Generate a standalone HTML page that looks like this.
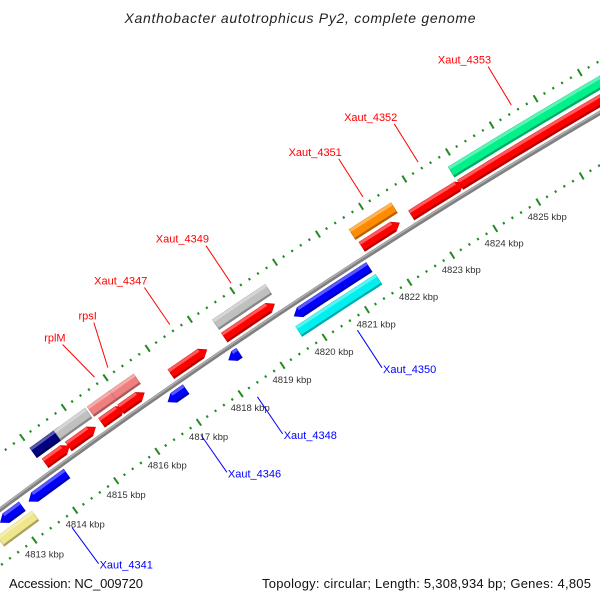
<!DOCTYPE html>
<html><head><meta charset="utf-8"><style>
body{margin:0;background:#fff}
svg{display:block;font-family:"Liberation Sans",sans-serif}
</style></head><body>
<svg id="map" width="600" height="600" viewBox="0 0 600 600" xmlns="http://www.w3.org/2000/svg">
<rect width="600" height="600" fill="#fff"/>
<text x="300" y="23" text-anchor="middle" font-size="14" font-style="italic" fill="#222" textLength="351">Xanthobacter autotrophicus Py2, complete genome</text>
<g id="layer"></g>
<text x="9" y="588" font-size="13" fill="#111" textLength="134">Accession: NC_009720</text>
<text x="591" y="588" font-size="13" fill="#111" text-anchor="end" textLength="329">Topology: circular; Length: 5,308,934 bp; Genes: 4,805</text>
</svg>
<script>
// gene data (kbp)
const geneStarts = [4814.07,4814.63,4815.43,4815.89,4817.09,4818.36,4821.59,4822.74,4823.87, 4814.0,4814.58,4815.38,4815.92,4818.36,4821.56,4823.85,4827.3, 4812.67,4813.37,4816.73,4818.18,4819.73, 4812.45,4819.64];
const geneEnds   = [4814.65,4815.28,4815.97,4816.45,4817.94,4819.54,4822.46,4823.94,4827.6, 4814.68,4815.33,4815.92,4816.49,4819.6,4822.53,4827.3,4828.0, 4813.2,4814.29,4817.16,4818.43,4821.49, 4813.3,4821.52];
const geneRows   = [1,1,1,1,1,1,1,1,1, 2,2,2,2,2,2,2,2, -1,-1,-1,-1,-1, -2,-2];
const geneColors = ["#f00","#f00","#f00","#f00","#f00","#f00","#f00","#f00","#f00","#000080","#c0c0c0","#f08080","#f08080","#c0c0c0","#ff8c00","#00f08c","#ff8c00","#00f","#00f","#00f","#00f","#00f","#f0e68c","#00f0f0"];
const geneArrow  = [1,1,1,1,1,1,1,1,1, 0,0,0,0,0,0,0,0, 1,1,1,1,1, 0,0];
// labels
const labelNames = ["rplM","rpsI","Xaut_4347","Xaut_4349","Xaut_4351","Xaut_4352","Xaut_4353","Xaut_4341","Xaut_4346","Xaut_4348","Xaut_4350"];
const labelKbp   = [4815.83,4816.15,4817.62,4819.06,4822.13,4823.40,4825.53,4813.75,4816.89,4818.24,4820.62];
const labelStrand= [1,1,1,1,1,1,1,-1,-1,-1,-1];
const labelShift = [-0.14,0.28,0,0,0,0,0,0,0,0,0];
// ticks
const tickLabels = [4813,4814,4815,4816,4817,4818,4819,4820,4821,4822,4823,4824,4825];

const CX=3983, CY=5881, R=6687, RIN=6642, ROUT=6732;
const ns="http://www.w3.org/2000/svg";
const layer=document.getElementById('layer');
function ang(k){return (-126.04+(k-4814)*0.4364)*Math.PI/180;}
function pt(k,r){const a=ang(k);return [CX+r*Math.cos(a),CY+r*Math.sin(a)];}
function mk(tag,attrs){const e=document.createElementNS(ns,tag);for(const k in attrs)e.setAttribute(k,attrs[k]);layer.appendChild(e);return e;}
function shade(c,f){const d=document.createElement('div');d.style.color=c;document.body.appendChild(d);const m=getComputedStyle(d).color.match(/\d+/g).map(Number);d.remove();
 return 'rgb('+m.map(v=>Math.round(f>1?v+(255-v)*(f-1):v*f)).join(',')+')';}

// backbone
(function(){let p=[];for(let k=4811;k<=4829;k+=0.25)p.push(pt(k,R).map(v=>v.toFixed(1)).join(','));
 const a=mk('polyline',{points:p.join(' '),fill:'none',stroke:'#808080','stroke-width':4.5});
 
 const b=mk('polyline',{points:p.join(' '),fill:'none',stroke:'#b0b0b0','stroke-width':1.5,transform:'translate(-0.6,-0.9)'});
 })();

// ticks
[RIN,ROUT].forEach((rr,ti)=>{
 for(let i=Math.round(4811*5);i<=4829*5;i++){const k=i/5;const major=i%5===0;const h=major?4:1.2;
  const a=pt(k,rr-h),b=pt(k,rr+h);
  const t=mk('line',{x1:a[0].toFixed(1),y1:a[1].toFixed(1),x2:b[0].toFixed(1),y2:b[1].toFixed(1),stroke:'#228b22','stroke-width':2});
  
  }
});
tickLabels.forEach(k=>{const p=pt(k,RIN-17);
 const t=mk('text',{x:p[0].toFixed(1),y:(p[1]+3.5).toFixed(1),'text-anchor':'middle','font-size':9.5,fill:'#333'});
 t.textContent=k+' kbp';
 
 });

// genes
function rowR(row){const base={1:[R+5,R+16],2:[R+20,R+32],'-1':[R-16,R-5],'-2':[R-32,R-20]};return base[row];}
geneStarts.forEach((s,i)=>{const e=geneEnds[i],[r1,r2]=rowR(geneRows[i]);const col=geneColors[i];
 const fwd=geneRows[i]>0;const ah=geneArrow[i]?0.14:0;const n=Math.max(2,Math.ceil((e-s)/0.25));
 let outer=[],inner=[];
 let a0=s,a1=e;if(ah){if(fwd)a1=e-ah;else a0=s+ah;}
 for(let j=0;j<=n;j++){const k=a0+(a1-a0)*j/n;outer.push(pt(k,r2));inner.push(pt(k,r1));}
 let pts=[];
 if(ah&&!fwd)pts.push(pt(s,(r1+r2)/2));
 pts=pts.concat(outer);
 if(ah&&fwd)pts.push(pt(e,(r1+r2)/2));
 pts=pts.concat(inner.reverse());
 const p=mk('polygon',{points:pts.map(q=>q.map(v=>v.toFixed(1)).join(',')).join(' '),fill:col,stroke:shade(col,0.8),'stroke-width':0.6});
 
 
 // highlight strip
 let hl=[];for(let j=0;j<=n;j++)hl.push(pt(a0+(a1-a0)*j/n,r2));for(let j=n;j>=0;j--)hl.push(pt(a0+(a1-a0)*j/n,r2-3));
 const h=mk('polygon',{points:hl.map(q=>q.map(v=>v.toFixed(1)).join(',')).join(' '),fill:shade(col,1.35)});
 
 
 let dk=[];for(let j=0;j<=n;j++)dk.push(pt(a0+(a1-a0)*j/n,r1+2));for(let j=n;j>=0;j--)dk.push(pt(a0+(a1-a0)*j/n,r1));
 const d=mk('polygon',{points:dk.map(q=>q.map(v=>v.toFixed(1)).join(',')).join(' '),fill:shade(col,0.7)});
 
 
});

// labels
labelNames.forEach((nm,i)=>{const f=labelStrand[i]>0;const col=f?'#f00':'#00f';
 const a=f?pt(labelKbp[i],ROUT+7):pt(labelKbp[i],RIN-12);
 const b=f?pt(labelKbp[i]+labelShift[i],ROUT+52):pt(labelKbp[i]+labelShift[i],RIN-57);
 const l=mk('line',{x1:a[0].toFixed(1),y1:a[1].toFixed(1),x2:b[0].toFixed(1),y2:b[1].toFixed(1),stroke:col,'stroke-width':1});
 
 
 const t=mk('text',f?{x:(b[0]+3).toFixed(1),y:(b[1]-3).toFixed(1),'text-anchor':'end','font-size':11,fill:col}:{x:(b[0]+1).toFixed(1),y:(b[1]+5).toFixed(1),'font-size':11,fill:col});
 t.textContent=nm;
 
 
});
</script>
</body></html>
